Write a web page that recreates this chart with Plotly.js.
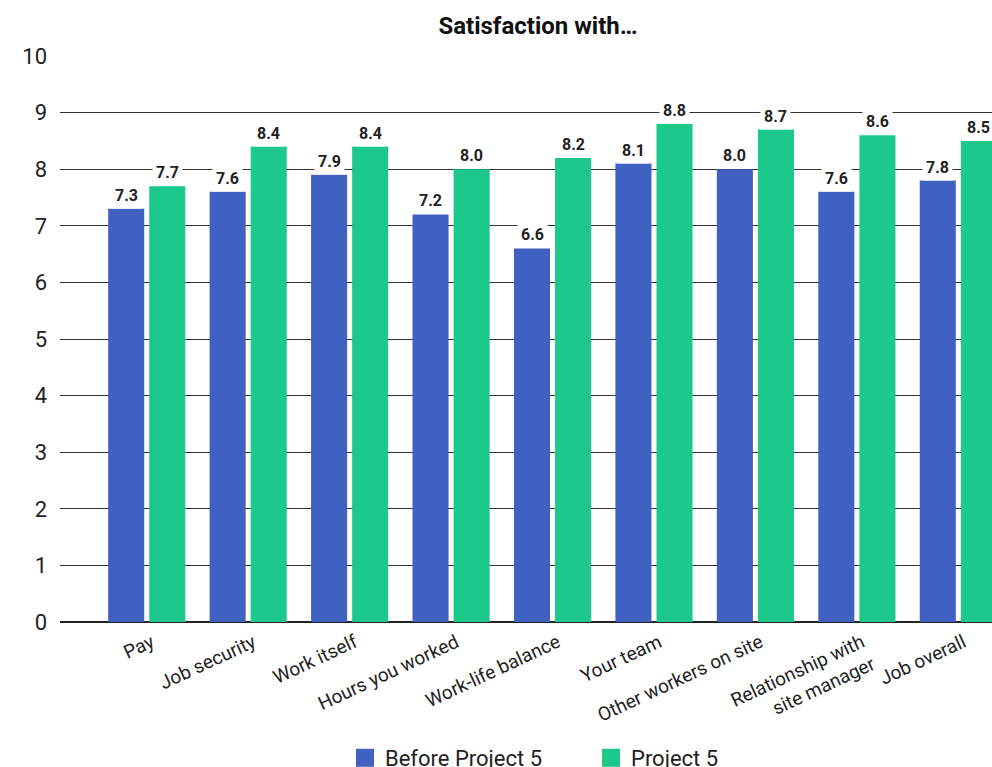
<!DOCTYPE html>
<html>
<head>
<meta charset="utf-8">
<script src="https://cdn.plot.ly/plotly-3.0.1.min.js"></script>
<style>html,body{margin:0;padding:0;background:#fff;}#chart{width:992px;height:767px;}</style>
</head>
<body>
<div id="chart"></div>
<script>
const categories = ['Pay','Job security','Work itself','Hours you worked','Work-life balance','Your team','Other workers on site','Relationship with<br>site manager','Job overall'];
const beforeProject5 = [7.3,7.6,7.9,7.2,6.6,8.1,8.0,7.6,7.8];
const project5 = [7.7,8.4,8.4,8.0,8.2,8.8,8.7,8.6,8.5];
const seriesNames = ['Before Project 5','Project 5'];
const yTicks = [0,1,2,3,4,5,6,7,8,9,10];

const BLUE = '#4060C2', GREEN = '#1DC98A';
const FONT = 'Roboto, Arial, sans-serif';

const traces = [
  {type:'bar', name:seriesNames[0], x:categories, y:beforeProject5, marker:{color:BLUE}, hoverinfo:'none'},
  {type:'bar', name:seriesNames[1], x:categories, y:project5, marker:{color:GREEN}, hoverinfo:'none'}
];

const annotations = [];
[beforeProject5, project5].forEach((vals, s) => {
  vals.forEach((v, i) => {
    annotations.push({
      x: categories[i], y: v, xref:'x', yref:'y',
      text: v.toFixed(1), showarrow:false, yanchor:'bottom',
      xshift: s === 0 ? -20.5 : 20.5, yshift: 0,
      bgcolor:'#ffffff', borderpad:3,
      font:{family:FONT, size:16, color:'#222', weight:'bold'}
    });
  });
});

const layout = {
  width:992, height:767,
  margin:{l:60, r:0, t:56, b:145, autoexpand:false},
  paper_bgcolor:'#fff', plot_bgcolor:'#fff',
  barmode:'group', bargap:0.19, bargroupgap:0.122,
  showlegend:true,
  title:{text:'Satisfaction with…', font:{family:FONT, size:24, color:'#111', weight:'bold'},
    xref:'container', x:538/992, xanchor:'center', yref:'container', y:1-26/767, yanchor:'middle'},
  xaxis:{type:'category', range:[-0.855, 8.332], tickangle:-25, showgrid:false, ticks:'',
    tickfont:{family:FONT, size:19, color:'#222'}, automargin:false, ticklabelstandoff:5, ticklabelshift:5},
  yaxis:{range:[0,10], tickvals:yTicks, ticks:'', showgrid:true, gridcolor:'#333', gridwidth:1,
    zeroline:true, zerolinecolor:'#222', zerolinewidth:1.5, ticklabelstandoff:12,
    tickfont:{family:FONT, size:22, color:'#222'}, automargin:false, fixedrange:true},
  legend:{orientation:'h', xref:'container', x:345/992, xanchor:'left', yref:'container', y:1-758/767, yanchor:'middle',
    entrywidth:201, entrywidthmode:'pixels',
    font:{family:FONT, size:22, color:'#222'}},
  annotations: annotations
};

Plotly.newPlot('chart', traces, layout, {displayModeBar:false, staticPlot:true}).then(gd => {
  gd.querySelectorAll('.legendpoints path').forEach(p => p.setAttribute('d','M9,9H-9V-9H9Z'));
});
</script>
</body>
</html>
